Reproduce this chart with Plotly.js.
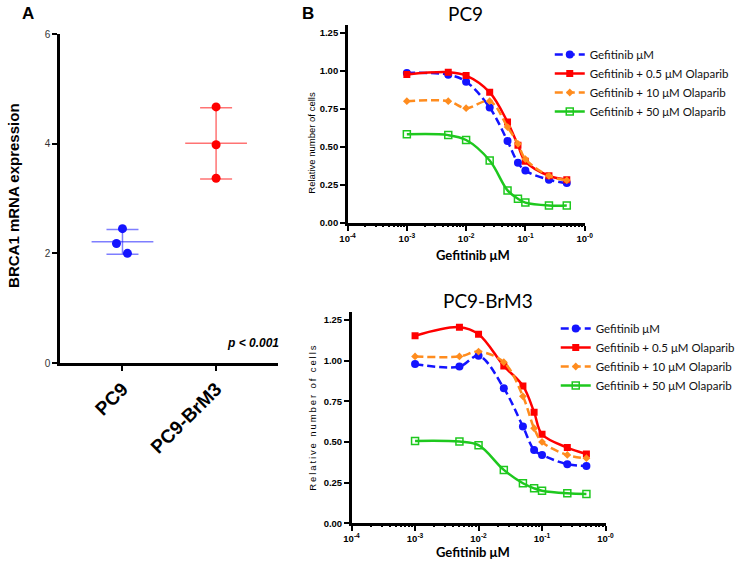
<!DOCTYPE html>
<html>
<head>
<meta charset="utf-8">
<script src="https://cdn.plot.ly/plotly-3.0.1.min.js"></script>
<style>html,body{margin:0;padding:0;background:#fff;}#chart{width:740px;height:561px;}</style>
</head>
<body>
<div id="chart"></div>
<script>
// ---------- Panel A data ----------
const groups = ['PC9', 'PC9-BrM3'];
const pc9Brca1 = [2.45, 2.18, 2.00];
const brm3Brca1 = [4.67, 3.98, 3.37];
const pText = 'p < 0.001';

// ---------- Panel B data ----------
const concs = [0.001, 0.005, 0.01, 0.025, 0.05, 0.075, 0.1, 0.25, 0.5];
const seriesNames = ['Gefitinib μM', 'Gefitinib + 0.5 μM Olaparib', 'Gefitinib + 10 μM Olaparib', 'Gefitinib + 50 μM Olaparib'];
const pc9Gef    = [0.985, 0.974, 0.928, 0.758, 0.538, 0.395, 0.344, 0.284, 0.262];
const pc9Ola05  = [0.975, 0.990, 0.968, 0.858, 0.663, 0.510, 0.405, 0.310, 0.284];
const pc9Ola10  = [0.800, 0.800, 0.754, 0.800, 0.630, 0.520, 0.420, 0.310, 0.280];
const pc9Ola50  = [0.582, 0.577, 0.545, 0.410, 0.214, 0.159, 0.134, 0.115, 0.115];
const brmGef    = [0.978, 0.963, 1.029, 0.830, 0.594, 0.451, 0.420, 0.363, 0.352];
const brmOla05  = [1.152, 1.205, 1.162, 0.967, 0.844, 0.683, 0.547, 0.465, 0.426];
const brmOla10  = [1.025, 1.025, 1.055, 0.990, 0.780, 0.584, 0.500, 0.420, 0.400];
const brmOla50  = [0.506, 0.502, 0.480, 0.328, 0.246, 0.215, 0.200, 0.184, 0.180];
const logTickVals = [1e-4, 1e-3, 1e-2, 1e-1, 1];
const logTickText = ['10<sup>-4</sup>', '10<sup>-3</sup>', '10<sup>-2</sup>', '10<sup>-1</sup>', '10<sup>-0</sup>'];
const yTicksB = [0, 0.25, 0.5, 0.75, 1.0, 1.25];

// ---------- styling ----------
const W = 740, H = 561;
const px = v => v / W, py = v => 1 - v / H;
const ARIAL = 'Arial, "Liberation Sans", sans-serif';
const CAL = 'Lato, "Open Sans", sans-serif';
const cBlue = '#1414ff', cRed = '#ff0000', cOrange = '#ff8c1e', cGreen = '#1ec81e';

const mean = a => a.reduce((s, v) => s + v, 0) / a.length;
const sd = a => { const m = mean(a); return Math.sqrt(a.reduce((s, v) => s + (v - m) * (v - m), 0) / (a.length - 1)); };

// minor tick positions for log axes (2..9 in each decade)
const minorLog = [];
for (let d = -4; d < 0; d++) for (let k = 2; k <= 9; k++) minorLog.push(k * Math.pow(10, d));

const traces = [];
// Panel A
const aSets = [pc9Brca1, brm3Brca1];
const aColors = [cBlue, cRed];
const aLight = ['rgba(20,20,255,0.55)', 'rgba(255,0,0,0.55)'];
const jitter = [[0, -0.064, 0.053], [0, 0, 0]];
aSets.forEach((vals, g) => {
  const m = mean(vals), s = sd(vals);
  traces.push({x: [g - 0.33, g + 0.33], y: [m, m], mode: 'lines', line: {color: aLight[g], width: 1.5},
    xaxis: 'x', yaxis: 'y', showlegend: false, hoverinfo: 'skip'});
  traces.push({x: [g], y: [m], mode: 'markers', marker: {size: 0.1, color: 'rgba(0,0,0,0)'},
    error_y: {type: 'data', array: [s], visible: true, width: 16, thickness: 1.5, color: aLight[g]},
    xaxis: 'x', yaxis: 'y', showlegend: false, hoverinfo: 'skip'});
  traces.push({x: vals.map((v, i) => g + jitter[g][i]), y: vals, mode: 'markers',
    marker: {size: 9, color: aColors[g]}, xaxis: 'x', yaxis: 'y', showlegend: false});
});

// invisible carrier traces so the minor-tick overlay axes are drawn
traces.push({x: [1e-3], y: [0], mode: 'markers', marker: {opacity: 0}, xaxis: 'x4', yaxis: 'y2', showlegend: false, hoverinfo: 'skip'});
traces.push({x: [1e-3], y: [0], mode: 'markers', marker: {opacity: 0}, xaxis: 'x5', yaxis: 'y3', showlegend: false, hoverinfo: 'skip'});

// Panel B
const styles = [
  {color: cBlue, dash: '8px,4px', symbol: 'circle', size: 8, lw: 0},
  {color: cRed, dash: 'solid', symbol: 'square', size: 7, lw: 0},
  {color: cOrange, dash: '8px,4px', symbol: 'diamond', size: 6, lw: 0},
  {color: cGreen, dash: 'solid', symbol: 'square-open', size: 7, lw: 1.5}
];
const pc9Sets = [pc9Gef, pc9Ola05, pc9Ola10, pc9Ola50];
const brmSets = [brmGef, brmOla05, brmOla10, brmOla50];
function addSet(sets, xa, ya, leg) {
  sets.forEach((vals, i) => {
    const st = styles[i];
    traces.push({x: concs, y: vals, mode: 'lines+markers', name: seriesNames[i],
      line: {color: st.color, width: 2.5, dash: st.dash, shape: 'spline', smoothing: 1},
      marker: {symbol: st.symbol, size: st.size, color: st.color, line: {width: st.lw, color: st.color}},
      xaxis: xa, yaxis: ya, legend: leg});
  });
}
addSet(pc9Sets, 'x2', 'y2', 'legend');
addSet(brmSets, 'x3', 'y3', 'legend2');

const tickFontB = {family: ARIAL, size: 9.5, color: '#000', weight: 'bold'};
function logAxis(d0, d1) {
  return {type: 'log', domain: [px(d0), px(d1)], range: [-4, 0], tickmode: 'array', tickvals: logTickVals, ticktext: logTickText,
    ticks: 'outside', ticklen: 5, tickwidth: 2, tickcolor: '#000', showline: true, linewidth: 2.5, linecolor: '#000',
    showgrid: false, zeroline: false, tickfont: tickFontB, fixedrange: true};
}
function minorAxis(d0, d1, over, anchor) {
  return {type: 'log', domain: [px(d0), px(d1)], range: [-4, 0], overlaying: over, anchor: anchor, side: 'bottom',
    tickmode: 'array', tickvals: minorLog, showticklabels: false, ticks: 'outside', ticklen: 3, tickwidth: 2,
    tickcolor: '#000', showline: false, showgrid: false, zeroline: false, fixedrange: true};
}
function linAxisB(b, t) {
  return {domain: [py(b), py(t)], range: [0, 1.3], tickvals: yTicksB, tickformat: '.2f',
    ticks: 'outside', ticklen: 5, tickwidth: 2, tickcolor: '#000', showline: true, linewidth: 2.5, linecolor: '#000',
    showgrid: false, zeroline: false, tickfont: tickFontB, fixedrange: true};
}

const spaced = 'Relative number of cells'.split('').join('\u2009');

function ann(text, x, y, font, extra) {
  return Object.assign({text: text, x: px(x), y: py(y), xref: 'paper', yref: 'paper', xanchor: 'center', yanchor: 'middle',
    showarrow: false, font: font}, extra || {});
}

const layout = {
  width: W, height: H, autosize: false, margin: {l: 0, r: 0, t: 0, b: 0},
  paper_bgcolor: '#fff', plot_bgcolor: 'rgba(0,0,0,0)', font: {family: ARIAL, color: '#000'},
  xaxis: {domain: [px(60), px(279)], range: [-0.67, 1.66], tickvals: [0, 1], ticktext: groups, tickangle: -45,
    ticks: 'outside', ticklen: 5, tickwidth: 2, tickcolor: '#000', showline: true, linewidth: 2.5, linecolor: '#000',
    showgrid: false, zeroline: false, tickfont: {family: ARIAL, size: 19, color: '#000', weight: 'bold'}, fixedrange: true},
  yaxis: {domain: [py(363), py(34)], range: [0, 6], tickvals: [0, 2, 4, 6], ticks: 'outside', ticklen: 5, tickwidth: 2,
    tickcolor: '#000', showline: true, linewidth: 2.5, linecolor: '#000', showgrid: false, zeroline: false,
    tickfont: {family: ARIAL, size: 10, color: '#333'}, fixedrange: true},
  xaxis2: Object.assign(logAxis(349, 587), {anchor: 'y2'}),
  yaxis2: Object.assign(linAxisB(223, 25), {anchor: 'x2'}),
  xaxis3: Object.assign(logAxis(353, 608), {anchor: 'y3'}),
  yaxis3: Object.assign(linAxisB(523.3, 311.7), {anchor: 'x3'}),
  xaxis4: minorAxis(349, 587, 'x2', 'y2'),
  xaxis5: minorAxis(353, 608, 'x3', 'y3'),
  legend: {x: px(552), y: py(40), xanchor: 'left', yanchor: 'top', bgcolor: 'rgba(0,0,0,0)',
    font: {family: CAL, size: 11.5, color: '#111'}, tracegroupgap: 0},
  legend2: {x: px(558), y: py(314), xanchor: 'left', yanchor: 'top', bgcolor: 'rgba(0,0,0,0)',
    font: {family: CAL, size: 11.5, color: '#111'}, tracegroupgap: 0},
  annotations: [
    ann('A', 28, 14, {family: ARIAL, size: 17, weight: 'bold'}),
    ann('B', 309, 14, {family: ARIAL, size: 17, weight: 'bold'}),
    ann('BRCA1 mRNA expression', 13, 195, {family: ARIAL, size: 15, weight: 'bold'}, {textangle: -90}),
    ann(pText, 282, 343, {family: ARIAL, size: 12, weight: 'bold', style: 'italic'}, {xanchor: 'right'}),
    ann('PC9', 467, 14, {family: CAL, size: 19}),
    ann('PC9-BrM3', 490, 300, {family: CAL, size: 19}),
    ann('Gefitinib μM', 475, 255, {family: CAL, size: 13, weight: 'bold'}),
    ann('Gefitinib μM', 475, 552, {family: CAL, size: 13, weight: 'bold'}),
    ann('Relative number of cells', 312, 143, {family: ARIAL, size: 9.5}, {textangle: -90}),
    ann(spaced, 313, 418, {family: ARIAL, size: 9.5}, {textangle: -90})
  ]
};

Plotly.newPlot('chart', traces, layout, {displayModeBar: false, staticPlot: true});
</script>
</body>
</html>
